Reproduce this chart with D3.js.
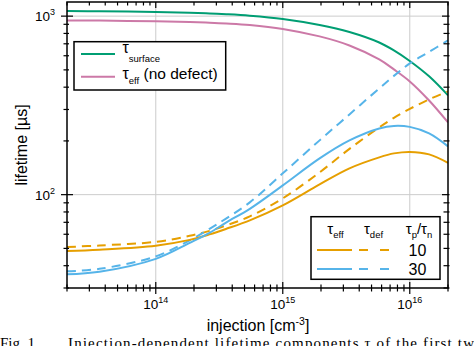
<!DOCTYPE html>
<html><head><meta charset="utf-8">
<script src="https://cdn.jsdelivr.net/npm/d3@7"></script>
<style>body{margin:0;background:#fff}svg{display:block;font-family:"Liberation Sans",Arial,sans-serif}</style>
</head><body><svg id="c" width="474" height="346"></svg>
<script>
// injection density [cm^-3]
const injection = [2e13, 3.6e13, 1e14, 1.85e14, 2.65e14, 3.6e14, 5.5e14, 1e15, 1.95e15, 3.35e15, 5.75e15, 7.5e15, 1e16, 1.42e16, 2e16];
// lifetimes [µs]
const tauSurface   = [1067, 1064, 1056, 1045, 1035, 1025, 1006, 965, 893, 815, 712, 643, 561, 460, 360];
const tauEffNoDef  = [946, 944, 936, 928, 919.5, 910, 892, 848, 770, 685, 572, 503, 431, 337, 254];
const tauEff10     = [48.3, 49.2, 51.8, 55.8, 59.9, 64.4, 71.8, 87.1, 114.2, 140.4, 161.8, 170.3, 173.6, 168.1, 150.7];
const tauDef10     = [50.9, 51.9, 54.4, 58.8, 62.7, 67.3, 75.6, 95.3, 133.3, 180.5, 238.2, 269.2, 302.2, 341.8, 378.7];
const tauEff30     = [35.8, 37.0, 43.7, 53.7, 61.1, 70.0, 83.3, 112.7, 159.7, 201.4, 235.0, 242.8, 239.7, 220.4, 186.4];
const tauDef30     = [37.2, 38.4, 45.1, 55.5, 64.4, 73.7, 90.5, 131.6, 201.4, 281.6, 393.7, 462.7, 543.5, 630.4, 731.1];
const ratios = ["10", "30"];
const xMajorExp = [14, 15, 16];
const yMajorExp = [2, 3];

const colors = {surface:"#009e73", noDef:"#cc79a7", r10:"#e69f00", r30:"#56b4e9"};

const svg = d3.select("#c");
const L = 67, R = 448, T = 2, B = 288;
const x = d3.scaleLog().domain([2e13, 2e16]).range([L, R]);
const y = d3.scaleLog().domain([30, 1200]).range([B, T]);

// grid
const g = svg.append("g");
xMajorExp.forEach(e => g.append("line").attr("x1", x(10**e)).attr("x2", x(10**e)).attr("y1", T).attr("y2", B).attr("stroke", "#cccccc").attr("stroke-width", 1));
yMajorExp.forEach(e => g.append("line").attr("y1", y(10**e)).attr("y2", y(10**e)).attr("x1", L).attr("x2", R).attr("stroke", "#cccccc").attr("stroke-width", 1));

svg.append("clipPath").attr("id", "clip").append("rect").attr("x", L).attr("y", T).attr("width", R - L).attr("height", B - T);

const line = d3.line().x((d, i) => x(injection[i])).y(d => y(d)).curve(d3.curveCatmullRom.alpha(0.5));
const series = [
  {v: tauSurface, c: colors.surface, dash: null},
  {v: tauEffNoDef, c: colors.noDef, dash: null},
  {v: tauDef10, c: colors.r10, dash: "9,6"},
  {v: tauDef30, c: colors.r30, dash: "9,6"},
  {v: tauEff10, c: colors.r10, dash: null},
  {v: tauEff30, c: colors.r30, dash: null}
];
const cg = svg.append("g").attr("clip-path", "url(#clip)");
series.forEach(s => cg.append("path").attr("d", line(s.v)).attr("fill", "none").attr("stroke", s.c).attr("stroke-width", 2).attr("stroke-dasharray", s.dash));

// legend 1
const l1 = svg.append("g");
l1.append("rect").attr("x", 74).attr("y", 41.7).attr("width", 151.7).attr("height", 48.3).attr("fill", "#fff").attr("stroke", "#000").attr("stroke-width", 1.5);
l1.append("line").attr("x1", 81).attr("x2", 115).attr("y1", 54).attr("y2", 54).attr("stroke", colors.surface).attr("stroke-width", 2);
l1.append("line").attr("x1", 81).attr("x2", 115).attr("y1", 76.7).attr("y2", 76.7).attr("stroke", colors.noDef).attr("stroke-width", 2);
let t = l1.append("text").attr("x", 122.5).attr("y", 53).attr("font-size", 16);
t.append("tspan").text("τ");
t.append("tspan").attr("font-size", 9.5).attr("dy", 9).text("surface");
t = l1.append("text").attr("x", 122.5).attr("y", 79).attr("font-size", 16);
t.append("tspan").text("τ");
t.append("tspan").attr("font-size", 9.5).attr("dy", 4.5).text("eff");
t.append("tspan").attr("dy", -4.5).attr("font-size", 15.5).text(" (no defect)");

// legend 2
const l2 = svg.append("g");
l2.append("rect").attr("x", 311).attr("y", 216.7).attr("width", 129).attr("height", 62.6).attr("fill", "#fff").attr("stroke", "#000").attr("stroke-width", 1.5);
function head(cx, main, sub) {
  const tt = l2.append("text").attr("x", cx).attr("y", 234).attr("font-size", 15).attr("text-anchor", "middle");
  tt.append("tspan").text(main);
  tt.append("tspan").attr("font-size", 9.5).attr("dy", 3.5).text(sub);
  return tt;
}
head(335.5, "τ", "eff");
head(373.5, "τ", "def");
t = l2.append("text").attr("x", 419).attr("y", 234).attr("font-size", 15).attr("text-anchor", "middle");
t.append("tspan").text("τ");
t.append("tspan").attr("font-size", 9.5).attr("dy", 3.5).text("p");
t.append("tspan").attr("dy", -3.5).text("/τ");
t.append("tspan").attr("font-size", 9.5).attr("dy", 3.5).text("n");
[[ratios[0], colors.r10, 250], [ratios[1], colors.r30, 269]].forEach(([lab, c, yy]) => {
  l2.append("line").attr("x1", 317).attr("x2", 352).attr("y1", yy).attr("y2", yy).attr("stroke", c).attr("stroke-width", 2);
  l2.append("line").attr("x1", 359).attr("x2", 390).attr("y1", yy).attr("y2", yy).attr("stroke", c).attr("stroke-width", 2).attr("stroke-dasharray", "9,12");
  l2.append("text").attr("x", 417.5).attr("y", yy + 6).attr("font-size", 16).attr("text-anchor", "middle").text(lab);
});

// frame and ticks
const fg = svg.append("g").attr("stroke", "#000");
fg.append("rect").attr("x", L).attr("y", T).attr("width", R - L).attr("height", B - T).attr("fill", "none").attr("stroke-width", 1.5);
const isMajor = v => Math.abs(Math.log10(v) - Math.round(Math.log10(v))) < 1e-9;
x.ticks().forEach(v => {
  const px = x(v), m = isMajor(v);
  fg.append("line").attr("x1", px).attr("x2", px).attr("y1", B - (m ? 6 : 3.5)).attr("y2", B + (m ? 6 : 3.5)).attr("stroke-width", 1.2);
  fg.append("line").attr("x1", px).attr("x2", px).attr("y1", T).attr("y2", T + (m ? 6 : 3.5)).attr("stroke-width", 1.2);
});
y.ticks().forEach(v => {
  const py = y(v), m = isMajor(v);
  fg.append("line").attr("y1", py).attr("y2", py).attr("x1", L - (m ? 6 : 3.5)).attr("x2", L + (m ? 6 : 2)).attr("stroke-width", 1.2);
  fg.append("line").attr("y1", py).attr("y2", py).attr("x1", R - (m ? 6 : 4.5)).attr("x2", R + 1.5).attr("stroke-width", 1.2);
});

// tick labels
xMajorExp.forEach(e => {
  const tt = svg.append("text").attr("x", x(10**e)).attr("y", 309).attr("font-size", 13.5).attr("text-anchor", "middle");
  tt.append("tspan").text("10");
  tt.append("tspan").attr("font-size", 9).attr("dy", -6).text(e);
});
yMajorExp.forEach(e => {
  const tt = svg.append("text").attr("x", 55).attr("y", y(10**e) + 5).attr("font-size", 13.5).attr("text-anchor", "end");
  tt.append("tspan").text("10");
  tt.append("tspan").attr("font-size", 9).attr("dy", -6).text(e);
});

// axis titles
t = svg.append("text").attr("x", 258).attr("y", 331).attr("font-size", 16).attr("text-anchor", "middle");
t.append("tspan").text("injection [cm");
t.append("tspan").attr("font-size", 10.5).attr("dy", -6).text("-3");
t.append("tspan").attr("dy", 6).text("]");
svg.append("text").attr("transform", "translate(27,145) rotate(-90)").attr("font-size", 16).attr("text-anchor", "middle").text("lifetime [µs]");

// caption (cropped at the bottom in the reference)
const cap = svg.append("g").attr("font-family", "'Liberation Serif','Times New Roman',serif").attr("font-size", 15);
cap.append("text").attr("x", 0).attr("y", 348).text("Fig. 1.");
cap.append("text").attr("x", 68).attr("y", 348).attr("textLength", 406).attr("lengthAdjust", "spacing").text("Injection-dependent lifetime components τ  of the first tw");
</script></body></html>
